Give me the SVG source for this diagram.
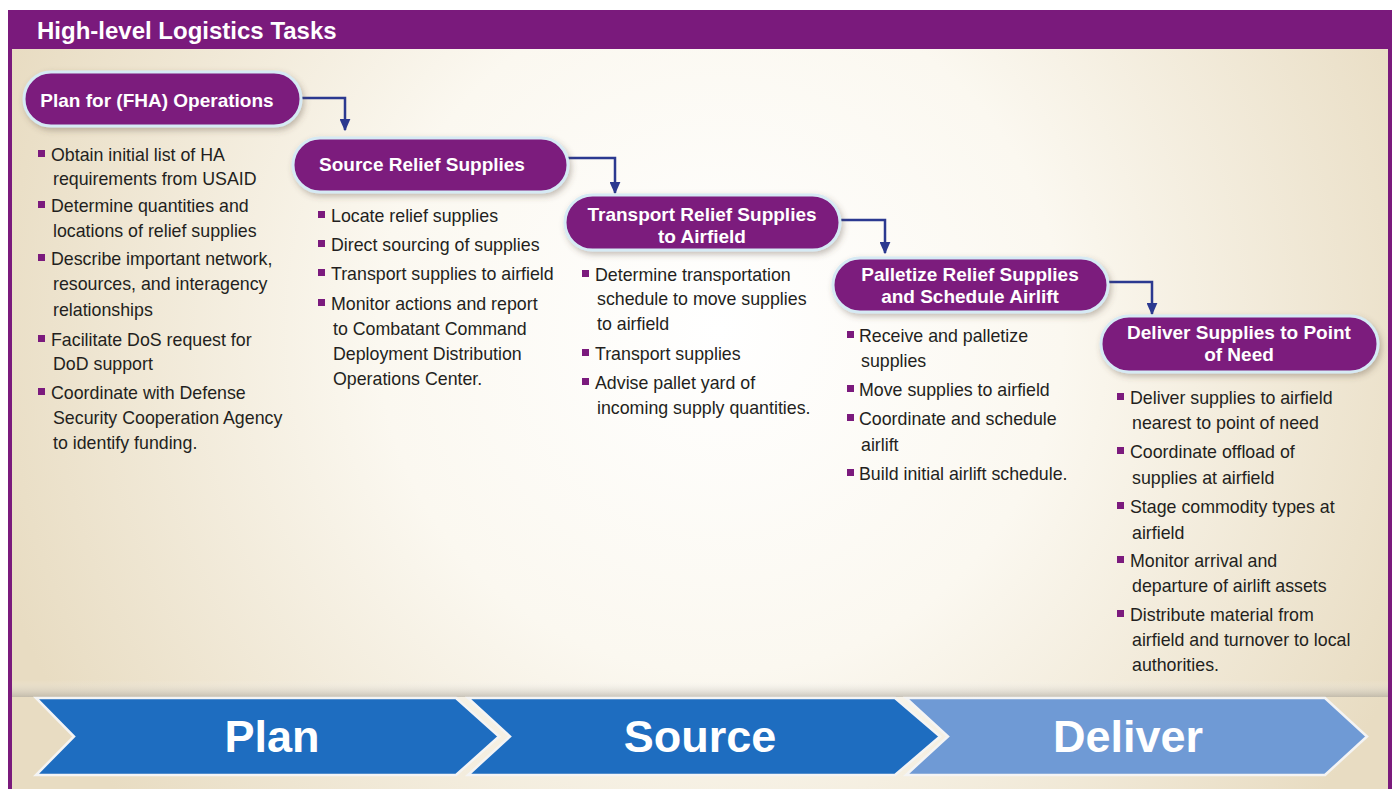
<svg xmlns="http://www.w3.org/2000/svg" width="1398" height="789" viewBox="0 0 1398 789">
<defs>
<radialGradient id="bg" cx="720" cy="330" r="760" gradientUnits="userSpaceOnUse">
<stop offset="0" stop-color="#FFFFFF"/>
<stop offset="0.45" stop-color="#FBF8F0"/>
<stop offset="1" stop-color="#E8DCC2"/>
</radialGradient>
<linearGradient id="shade" x1="0" y1="0" x2="0" y2="1">
<stop offset="0" stop-color="#FFFFFF" stop-opacity="0"/>
<stop offset="1" stop-color="#A9A49A" stop-opacity="0.6"/>
</linearGradient>
<filter id="sh" x="-10%" y="-30%" width="120%" height="170%">
<feDropShadow dx="2" dy="3" stdDeviation="3" flood-color="#5a4a3a" flood-opacity="0.35"/>
</filter>
<marker id="ah" viewBox="0 0 10 10" refX="9" refY="5" markerWidth="5" markerHeight="4.4" orient="auto" markerUnits="strokeWidth" preserveAspectRatio="none">
<path d="M0,0 L10,5 L0,10 z" fill="#2B3990"/>
</marker>
<style>
.pill{fill:#7B1A7D;stroke:#D6EAF4;stroke-width:3;filter:url(#sh)}
.pt{font-family:"Liberation Sans",Arial,sans-serif;font-weight:bold;font-size:19px;fill:#FFFFFF;text-anchor:middle}
.bt{font-family:"Liberation Sans",Arial,sans-serif;font-size:17.8px;fill:#231F20}
.bl{fill:#7B1A7D}
.con{fill:none;stroke:#2B3990;stroke-width:2.5;marker-end:url(#ah)}
.chev{stroke:#F4F4F4;stroke-width:2.5;stroke-linejoin:miter}
.ct{font-family:"Liberation Sans",Arial,sans-serif;font-weight:bold;font-size:45px;fill:#FFFFFF;text-anchor:middle}
</style>
</defs>

<rect x="0" y="0" width="1398" height="789" fill="#FFFFFF"/>
<rect x="8" y="10" width="1384" height="779" fill="url(#bg)"/>
<rect x="8" y="10" width="1384" height="39" fill="#7A1A7C"/>
<rect x="8" y="10" width="4" height="779" fill="#7A1A7C"/>
<rect x="1388" y="10" width="4" height="779" fill="#7A1A7C"/>
<text x="37" y="39" font-family="'Liberation Sans',Arial,sans-serif" font-weight="bold" font-size="24" fill="#FFFFFF">High-level Logistics Tasks</text>

<g id="connectors">
<path class="con" d="M302,98 H345 V130"/>
<path class="con" d="M568,158 H615 V193"/>
<path class="con" d="M840,220 H885 V253"/>
<path class="con" d="M1108,282 H1152 V314"/>
</g>

<g id="plan">
<rect class="pill" x="24" y="72" width="277" height="54" rx="27"/>
<text class="pt" x="157" y="107">Plan for (FHA) Operations</text>
<rect class="bl" x="38" y="150" width="7" height="7"/>
<text class="bt" x="51" y="161">Obtain initial list of HA</text>
<text class="bt" x="53" y="185">requirements from USAID</text>
<rect class="bl" x="38" y="201" width="7" height="7"/>
<text class="bt" x="51" y="212">Determine quantities and</text>
<text class="bt" x="53" y="237">locations of relief supplies</text>
<rect class="bl" x="38" y="254" width="7" height="7"/>
<text class="bt" x="51" y="265">Describe important network,</text>
<text class="bt" x="53" y="290">resources, and interagency</text>
<text class="bt" x="53" y="316">relationships</text>
<rect class="bl" x="38" y="335" width="7" height="7"/>
<text class="bt" x="51" y="346">Facilitate DoS request for</text>
<text class="bt" x="53" y="370">DoD support</text>
<rect class="bl" x="38" y="388" width="7" height="7"/>
<text class="bt" x="51" y="399">Coordinate with Defense</text>
<text class="bt" x="53" y="424">Security Cooperation Agency</text>
<text class="bt" x="53" y="449">to identify funding.</text>
</g>

<g id="source">
<rect class="pill" x="293" y="138" width="275" height="54" rx="27"/>
<text class="pt" x="422" y="171">Source Relief Supplies</text>
<rect class="bl" x="318" y="211" width="7" height="7"/>
<text class="bt" x="331" y="222">Locate relief supplies</text>
<rect class="bl" x="318" y="240" width="7" height="7"/>
<text class="bt" x="331" y="251">Direct sourcing of supplies</text>
<rect class="bl" x="318" y="269" width="7" height="7"/>
<text class="bt" x="331" y="280">Transport supplies to airfield</text>
<rect class="bl" x="318" y="299" width="7" height="7"/>
<text class="bt" x="331" y="310">Monitor actions and report</text>
<text class="bt" x="333" y="335">to Combatant Command</text>
<text class="bt" x="333" y="360">Deployment Distribution</text>
<text class="bt" x="333" y="385">Operations Center.</text>
</g>

<g id="transport">
<rect class="pill" x="565" y="195" width="275" height="55" rx="27.5"/>
<text class="pt" x="702" y="221">Transport Relief Supplies</text>
<text class="pt" x="702" y="243">to Airfield</text>
<rect class="bl" x="582" y="270" width="7" height="7"/>
<text class="bt" x="595" y="281">Determine transportation</text>
<text class="bt" x="597" y="305">schedule to move supplies</text>
<text class="bt" x="597" y="330">to airfield</text>
<rect class="bl" x="582" y="349" width="7" height="7"/>
<text class="bt" x="595" y="360">Transport supplies</text>
<rect class="bl" x="582" y="378" width="7" height="7"/>
<text class="bt" x="595" y="389">Advise pallet yard of</text>
<text class="bt" x="597" y="414">incoming supply quantities.</text>
</g>

<g id="palletize">
<rect class="pill" x="833" y="258" width="275" height="54" rx="27"/>
<text class="pt" x="970" y="281">Palletize Relief Supplies</text>
<text class="pt" x="970" y="303">and Schedule Airlift</text>
<rect class="bl" x="847" y="331" width="7" height="7"/>
<text class="bt" x="859" y="342">Receive and palletize</text>
<text class="bt" x="861" y="367">supplies</text>
<rect class="bl" x="847" y="385" width="7" height="7"/>
<text class="bt" x="859" y="396">Move supplies to airfield</text>
<rect class="bl" x="847" y="414" width="7" height="7"/>
<text class="bt" x="859" y="425">Coordinate and schedule</text>
<text class="bt" x="861" y="451">airlift</text>
<rect class="bl" x="847" y="469" width="7" height="7"/>
<text class="bt" x="859" y="480">Build initial airlift schedule.</text>
</g>

<g id="deliver">
<rect class="pill" x="1101" y="316" width="277" height="56" rx="28"/>
<text class="pt" x="1239" y="339">Deliver Supplies to Point</text>
<text class="pt" x="1239" y="361">of Need</text>
<rect class="bl" x="1117" y="393" width="7" height="7"/>
<text class="bt" x="1130" y="404">Deliver supplies to airfield</text>
<text class="bt" x="1132" y="429">nearest to point of need</text>
<rect class="bl" x="1117" y="447" width="7" height="7"/>
<text class="bt" x="1130" y="458">Coordinate offload of</text>
<text class="bt" x="1132" y="484">supplies at airfield</text>
<rect class="bl" x="1117" y="502" width="7" height="7"/>
<text class="bt" x="1130" y="513">Stage commodity types at</text>
<text class="bt" x="1132" y="539">airfield</text>
<rect class="bl" x="1117" y="556" width="7" height="7"/>
<text class="bt" x="1130" y="567">Monitor arrival and</text>
<text class="bt" x="1132" y="592">departure of airlift assets</text>
<rect class="bl" x="1117" y="610" width="7" height="7"/>
<text class="bt" x="1130" y="621">Distribute material from</text>
<text class="bt" x="1132" y="646">airfield and turnover to local</text>
<text class="bt" x="1132" y="671">authorities.</text>
</g>

<rect x="12" y="680" width="1376" height="17" fill="url(#shade)"/>

<g id="phase-plan">
<polygon class="chev" points="36,698 456,698 499,736.5 456,775 36,775 74,736.5" fill="#1E6DC0"/>
<text class="ct" x="272" y="752">Plan</text>
</g>
<g id="phase-source">
<polygon class="chev" points="468,698 895,698 940,736.5 895,775 468,775 510,736.5" fill="#1E6DC0"/>
<text class="ct" x="700" y="752">Source</text>
</g>
<g id="phase-deliver">
<polygon class="chev" points="906,698 1325,698 1367,736.5 1325,775 906,775 948,736.5" fill="#6F9AD5"/>
<text class="ct" x="1128" y="752">Deliver</text>
</g>
</svg>
